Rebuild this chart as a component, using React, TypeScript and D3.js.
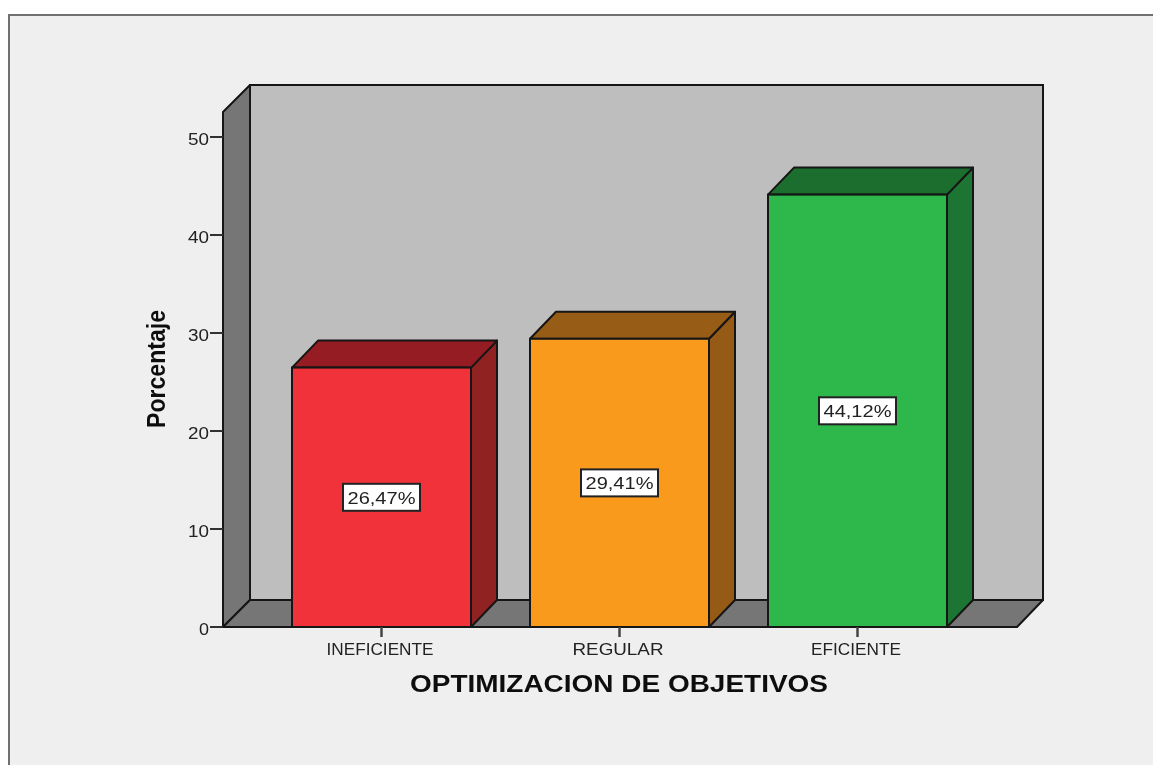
import React from "react";
import * as d3 from "d3";

const categories = ["INEFICIENTE", "REGULAR", "EFICIENTE"];
const percentages = [26.47, 29.41, 44.12];
const valueLabels = ["26,47%", "29,41%", "44,12%"];
const frontColors = ["#f2333b", "#fa9a1f", "#2fb84c"];
const topColors = ["#951d22", "#975c12", "#1c6e2d"];
const sideColors = ["#912024", "#945a12", "#1f7431"];
const yTicks = [0, 10, 20, 30, 40, 50];
const tickLabelWidths = [107, 91, 90];

const y = d3.scaleLinear().domain([0, 50]).range([627, 137]);
const x = d3.scaleBand().domain(categories).range([292, 947]).paddingInner(59 / 238).paddingOuter(0);
const DX = 26;
const DY = 27;
const LEFT = 223, RIGHT = 1017, TOP = 112, BASE = y(0);
const INK = "#151515";

const poly = (pts: number[][]) => pts.map((p) => p.join(",")).join(" ");

export default function App() {
  const sans = "'Liberation Sans', Arial, sans-serif";
  return (
    <svg width={1153} height={765} style={{ position: "absolute", left: 0, top: 0, background: "#fff" }}>
      <defs>
        <filter id="soft" x="0" y="0" width="100%" height="100%">
          <feGaussianBlur stdDeviation="0.55" />
        </filter>
      </defs>
      <g filter="url(#soft)">
        <rect x={0} y={0} width={1153} height={765} fill="#fff" />
        <path d="M9 770V15H1160V770Z" fill="#efefef" stroke="#6f6f6f" strokeWidth={2} />
        {/* back wall */}
        <rect x={LEFT + 27} y={TOP - 27} width={RIGHT - LEFT - 1} height={BASE - TOP} fill="#bebebe" stroke={INK} strokeWidth={2} />
        {/* left wall */}
        <polygon points={poly([[LEFT, TOP], [LEFT + 27, TOP - 27], [LEFT + 27, BASE - 27], [LEFT, BASE]])} fill="#767676" stroke={INK} strokeWidth={2} strokeLinejoin="round" />
        {/* floor */}
        <polygon points={poly([[LEFT, BASE], [LEFT + 27, BASE - 27], [RIGHT + 26, BASE - 27], [RIGHT, BASE]])} fill="#767676" stroke={INK} strokeWidth={2} strokeLinejoin="round" />
        {/* y axis */}
        {yTicks.map((t) => (
          <g key={t}>
            <line x1={LEFT - 13} x2={LEFT} y1={y(t)} y2={y(t)} stroke="#333" strokeWidth={2} />
            <text x={LEFT - 14} y={y(t) + 8} textAnchor="end" fontFamily={sans} fontSize={16.5} fill="#222" textLength={t === 0 ? 10 : 21} lengthAdjust="spacingAndGlyphs">{t}</text>
          </g>
        ))}
        {/* bars */}
        {categories.map((c, i) => {
          const x0 = x(c)!;
          const x1 = x0 + x.bandwidth();
          const yt = y(percentages[i]);
          const midY = (yt + BASE) / 2;
          const cx = (x0 + x1) / 2;
          return (
            <g key={c}>
              <polygon points={poly([[x1, yt], [x1 + DX, yt - DY], [x1 + DX, BASE - DY], [x1, BASE]])} fill={sideColors[i]} stroke={INK} strokeWidth={2} strokeLinejoin="round" />
              <polygon points={poly([[x0, yt], [x0 + DX, yt - DY], [x1 + DX, yt - DY], [x1, yt]])} fill={topColors[i]} stroke={INK} strokeWidth={2} strokeLinejoin="round" />
              <rect x={x0} y={yt} width={x1 - x0} height={BASE - yt} fill={frontColors[i]} stroke={INK} strokeWidth={2} />
              <rect x={cx - 38.5} y={midY - 13.5} width={77} height={27} fill="#fff" stroke="#222" strokeWidth={2} />
              <text x={cx} y={midY + 6.5} textAnchor="middle" fontFamily={sans} fontSize={16.5} fill="#222" textLength={68} lengthAdjust="spacingAndGlyphs">{valueLabels[i]}</text>
              <line x1={cx} x2={cx} y1={BASE} y2={BASE + 10} stroke="#444" strokeWidth={2.5} />
              <text x={cx - 1.5} y={BASE + 28} textAnchor="middle" fontFamily={sans} fontSize={16.5} fill="#222" textLength={tickLabelWidths[i]} lengthAdjust="spacingAndGlyphs">{c}</text>
            </g>
          );
        })}
        <text x={619} y={692} textAnchor="middle" fontFamily={sans} fontSize={23} fontWeight={700} fill="#111" textLength={418} lengthAdjust="spacingAndGlyphs">OPTIMIZACION DE OBJETIVOS</text>
        <text transform="translate(165,369) rotate(-90)" textAnchor="middle" fontFamily={sans} fontSize={25} fontWeight={700} fill="#111" textLength={118} lengthAdjust="spacingAndGlyphs">Porcentaje</text>
      </g>
    </svg>
  );
}
